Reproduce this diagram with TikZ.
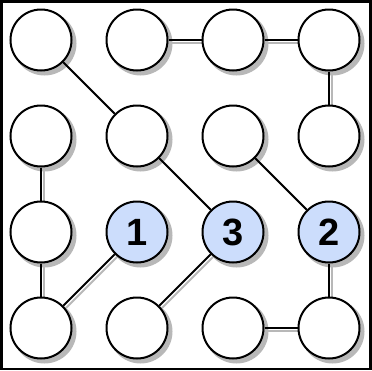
\documentclass[tikz,border=0pt]{standalone}
\usepackage{fontspec}
\setsansfont{Liberation Sans}
\usetikzlibrary{positioning, backgrounds}
\definecolor{hintblue}{RGB}{204,221,252}
\colorlet{shadowgray}{black!28}

\begin{document}
\begin{tikzpicture}[x=1pt, y=-1pt, node distance=96pt,
  dot/.style={circle, draw, line width=2pt, fill=white, minimum size=61pt, inner sep=0pt},
  hint/.style={dot, fill=hintblue, font=\sffamily\bfseries\fontsize{38}{38}\selectfont},
  link/.style={line width=2pt},
  linkshade/.style={draw=shadowgray, line width=2pt}]
\useasboundingbox (0,0) rectangle (372,370);
\draw[line width=2.5pt] (1.25,1.25) rectangle (370.5,368.75);
\node (a1) [dot] at (41,40) {};
\node (a2) [dot, right of=a1] {};
\node (a3) [dot, right of=a2] {};
\node (a4) [dot, right of=a3] {};
\node (b1) [dot, below of=a1] {};
\node (b2) [dot, right of=b1] {};
\node (b3) [dot, right of=b2] {};
\node (b4) [dot, right of=b3] {};
\node (c1) [dot, below of=b1] {};
\node (c2) [hint, right of=c1] {1};
\node (c3) [hint, right of=c2] {3};
\node (c4) [hint, right of=c3] {2};
\node (d1) [dot, below of=c1] {};
\node (d2) [dot, right of=d1] {};
\node (d3) [dot, right of=d2] {};
\node (d4) [dot, right of=d3] {};
\begin{scope}[on background layer]
% shadows of the circles
\foreach \n in {a1,a2,a3,a4,b1,b2,b3,b4,c1,c2,c3,c4,d1,d2,d3,d4}
  \fill[shadowgray] ([shift={(3.5pt,-3.5pt)}]\n.center) circle (32pt);
% links with their shadows
\foreach \p/\q in {a1/b2, a2/a3, a3/a4, a4/b4, b1/c1, b2/c3,
                   b3/c4, c1/d1, c2/d1, c3/d2, c4/d4, d3/d4} {
  \draw[linkshade] ([shift={(2.5pt,-2.5pt)}]\p.center) -- ([shift={(2.5pt,-2.5pt)}]\q.center);
  \draw[link] (\p) -- (\q);
}
\end{scope}
\end{tikzpicture}
\end{document}
